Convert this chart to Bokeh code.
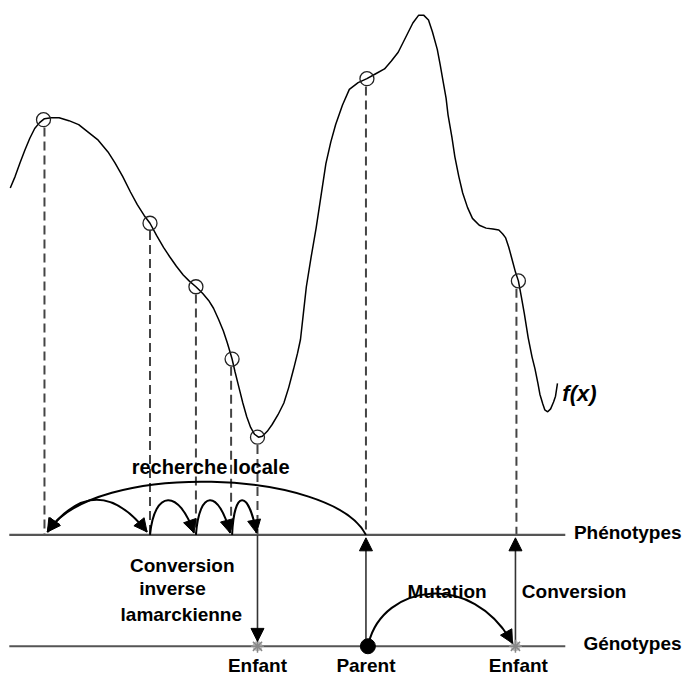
import numpy as np
from bokeh.plotting import figure
from bokeh.models import Range1d, Arrow, NormalHead
from bokeh.core.properties import value
from bokeh.embed import file_html
from bokeh.resources import INLINE

# ---- fitness curve f(x) (pixel space) ----
curve_x = [10, 15, 20, 25, 30, 35, 40, 45, 52, 60, 70, 80, 90, 100, 110, 117, 125, 133, 140, 147,
           153, 160, 167, 173, 180, 187, 193, 200, 207, 213, 218, 223, 228, 232, 235, 237, 240, 244,
           248, 252, 256, 260, 264, 268, 273, 278, 284, 290, 295, 300, 304, 307, 310, 313, 318, 323,
           328, 333, 338, 343, 350, 357, 366, 375, 384, 393, 400, 407, 412, 417, 422, 428, 433, 438,
           442, 447, 450, 453, 456, 458, 462, 465, 469, 473, 478, 483, 490, 497, 504, 510, 514, 517,
           520, 523, 527, 530, 533, 536, 540, 544, 547, 550, 552, 555, 557, 560, 563, 566, 568, 570]
curve_y = [192, 180, 166, 153, 141, 131, 125, 121, 120, 120, 123, 127, 135, 143, 155, 166, 180, 196,
           209, 220, 228, 241, 253, 262, 272, 281, 287, 293, 300, 307, 315, 326, 338, 350, 360, 367,
           380, 396, 412, 426, 437, 444, 447, 446, 441, 434, 424, 412, 396, 377, 361, 347, 320, 293,
           262, 233, 200, 167, 145, 127, 107, 91, 84, 80, 75, 70, 62, 53, 43, 33, 23, 15, 15, 20,
           32, 50, 66, 83, 100, 117, 140, 160, 180, 197, 212, 223, 230, 233, 234, 235, 239, 243,
           252, 263, 278, 287, 303, 320, 345, 365, 377, 392, 403, 413, 419, 421, 418, 411, 405, 392]

# sampled individuals on the curve
pt_x = [44, 153, 200, 237, 263, 375, 530]
pt_y = [122, 228, 293, 367, 447, 80, 287]
drop_x = [45, 153, 200, 236, 263, 374, 528]

# levels
pheno_y = 547
geno_y = 661
level_x0, level_x1 = 9, 578

# local search hops (phenotype level)
hop_x = [152, 199, 236, 263]
parent_x = 375
child_x = 263
mut_child_x = 527

# labels
lab_x = [215, 186, 176, 185, 457, 587, 263, 374, 530]
lab_y = [478, 578, 602, 629, 605, 605, 681, 681, 681]
lab_t = ["recherche locale", "Conversion", "inverse", "lamarckienne", "Mutation", "Conversion",
         "Enfant", "Parent", "Enfant"]
level_lab_y = [545, 658]
level_lab_t = ["Phénotypes", "Génotypes"]

p = figure(width=684, height=678, x_range=Range1d(0, 700), y_range=Range1d(694, 0),
           output_backend="svg", toolbar_location=None, x_axis_type=None, y_axis_type=None,
           min_border=0, outline_line_color=None, background_fill_color="white")

# curve
p.line(curve_x, curve_y, line_color="black", line_width=1.5)

# dashed projections
p.segment(x0=drop_x, y0=[y + 8 for y in pt_y], x1=drop_x, y1=[pheno_y] * len(drop_x),
          line_color="#444444", line_width=2, line_dash="9 5")

# circles on the curve
p.scatter(pt_x, pt_y, marker="circle", size=14, fill_color=None, line_color="#222222", line_width=1.3)

# levels
p.segment(x0=[level_x0, level_x0], y0=[pheno_y, geno_y], x1=[level_x1, level_x1], y1=[pheno_y, geno_y],
          line_color="#555555", line_width=2.2)

def head(xs, ys, xe, ye, size=13):
    d = np.hypot(xe - xs, ye - ys)
    ux, uy = (xe - xs) / d, (ye - ys) / d
    p.add_layout(Arrow(end=NormalHead(size=size, fill_color="black", line_color="black"),
                       x_start=xe - 4 * ux, y_start=ye - 4 * uy, x_end=xe, y_end=ye,
                       line_color="black", line_width=2))

# big arc: parent -> first point
bx0, by0 = parent_x - 1, pheno_y
bc0 = (340, 480)
bc1 = (95, 470)
bx1, by1 = 48, 544
p.bezier(x0=[bx0], y0=[by0], x1=[bx1], y1=[by1], cx0=[bc0[0]], cy0=[bc0[1]],
         cx1=[bc1[0]], cy1=[bc1[1]], line_color="black", line_width=2)
head(bc1[0], bc1[1], bx1, by1)

# double arc between first point and second point
ax0, ax1, acx, acy = 48, 150, 98, 478
p.quadratic(x0=[ax0], y0=[544], x1=[ax1], y1=[544], cx=[acx], cy=[acy], line_color="black", line_width=2)
head(acx, acy, ax0, 544)
head(acx, acy, ax1, 544)

# small hops
for a, b in zip(hop_x[:-1], hop_x[1:]):
    w = b - a
    c0 = (a + 0.12 * w, 500)
    c1 = (b - 0.35 * w, 500)
    p.bezier(x0=[a + 1], y0=[pheno_y], x1=[b - 1], y1=[pheno_y - 2], cx0=[c0[0]], cy0=[c0[1]],
             cx1=[c1[0]], cy1=[c1[1]], line_color="black", line_width=2)
    head(c1[0], c1[1], b - 1, pheno_y - 2)

# vertical conversions
p.segment(x0=[child_x, parent_x - 1, mut_child_x], y0=[pheno_y, geno_y, geno_y],
          x1=[child_x, parent_x - 1, mut_child_x], y1=[geno_y - 8, pheno_y + 8, pheno_y + 8],
          line_color="#333333", line_width=1.6)
head(child_x, pheno_y + 60, child_x, geno_y - 5)
head(parent_x - 1, geno_y - 60, parent_x - 1, pheno_y + 3)
head(mut_child_x, geno_y - 60, mut_child_x, pheno_y + 3)

# mutation arc
mc0 = (392, 598)
mc1 = (482, 583)
p.bezier(x0=[parent_x + 2], y0=[geno_y - 4], x1=[mut_child_x - 3], y1=[geno_y - 3], cx0=[mc0[0]], cy0=[mc0[1]],
         cx1=[mc1[0]], cy1=[mc1[1]], line_color="black", line_width=2)
head(mc1[0], mc1[1], mut_child_x - 3, geno_y - 3)

# genotype markers
p.scatter([parent_x + 1], [geno_y], marker="circle", size=15, fill_color="black", line_color="black")
p.scatter([child_x, mut_child_x], [geno_y, geno_y], marker="circle", size=10, fill_color="#bbbbbb",
          line_color=None)
p.scatter([child_x, mut_child_x], [geno_y, geno_y], marker="asterisk", size=13, line_color="#888888",
          line_width=1.5)

font = value("Liberation Sans")
p.text(x=lab_x[:1], y=lab_y[:1], text=lab_t[:1], text_font=font, text_font_style="bold",
       text_font_size="20px", text_align="center", text_baseline="alphabetic", text_color="black")
p.text(x=lab_x[1:], y=lab_y[1:], text=lab_t[1:], text_font=font, text_font_style="bold",
       text_font_size="19px", text_align="center", text_baseline="alphabetic", text_color="black")

p.text(x=[697, 697], y=level_lab_y, text=level_lab_t, text_font=font,
       text_font_style="bold", text_font_size="19px", text_align="right", text_baseline="alphabetic",
       text_color="black")

p.text(x=[575], y=[402], text=["f(x)"], text_font=font, text_font_style="bold italic",
       text_font_size="22px", text_align="left", text_baseline="alphabetic", text_color="black")

open("out.html", "w").write(file_html(p, INLINE))
